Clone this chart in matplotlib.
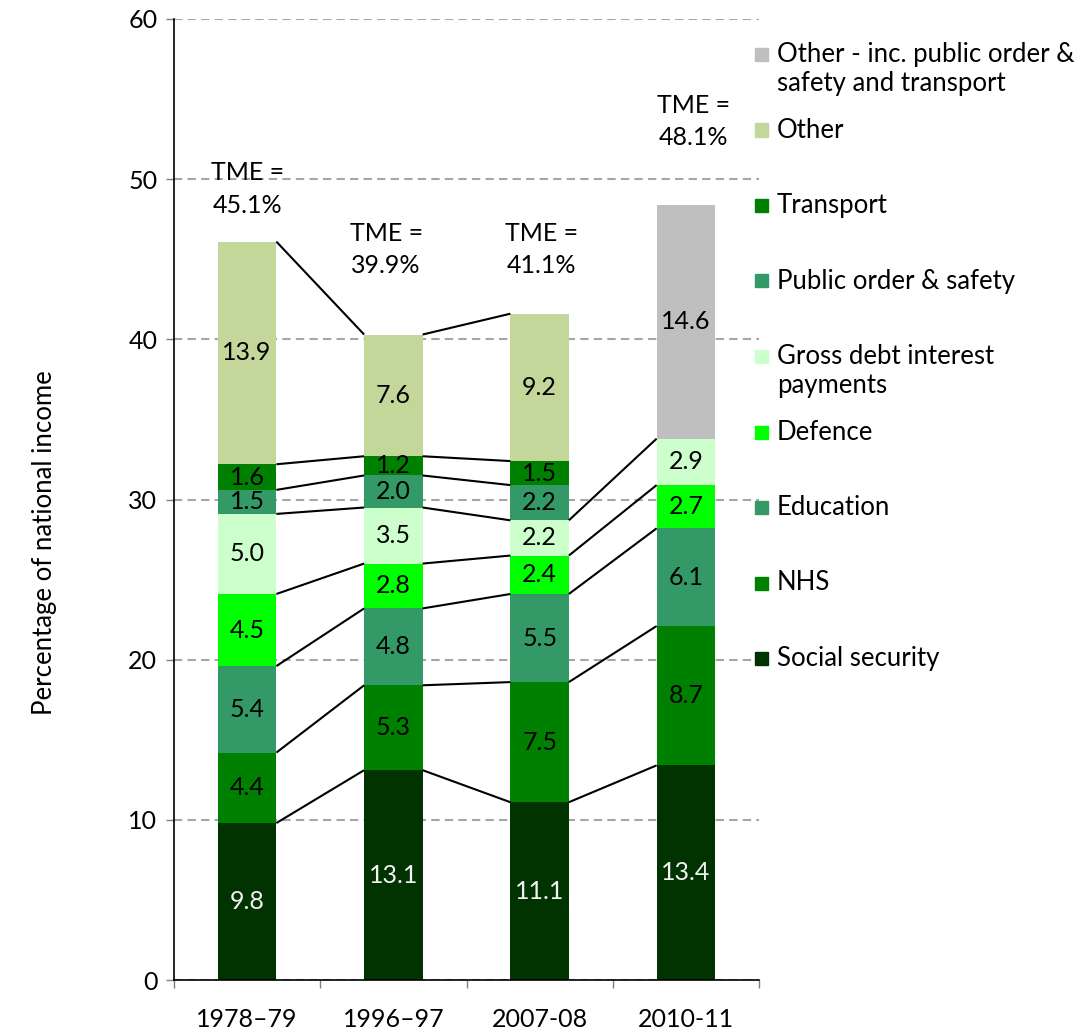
"""Stacked spending shares with series lines, TME notes and a side legend."""

import matplotlib.pyplot as plt
import numpy as np

# %% data
years = ["1978–79", "1996–97", "2007-08", "2010-11"]
social_security = [9.8, 13.1, 11.1, 13.4]
nhs = [4.4, 5.3, 7.5, 8.7]
education = [5.4, 4.8, 5.5, 6.1]
defence = [4.5, 2.8, 2.4, 2.7]
debt_interest = [5.0, 3.5, 2.2, 2.9]
public_order = [1.5, 2.0, 2.2, 0.0]
transport = [1.6, 1.2, 1.5, 0.0]
other = [13.9, 7.6, 9.2, 0.0]
other_incl = [0.0, 0.0, 0.0, 14.6]
tme = [45.1, 39.9, 41.1, 48.1]

series = [
    ("Social security", social_security, "#003300"),
    ("NHS", nhs, "#008000"),
    ("Education", education, "#339966"),
    ("Defence", defence, "#00ff00"),
    ("Gross debt interest\npayments", debt_interest, "#ccffcc"),
    ("Public order & safety", public_order, "#339966"),
    ("Transport", transport, "#008000"),
    ("Other", other, "#c4d79b"),
    ("Other - inc. public order &\nsafety and transport", other_incl, "#bfbfbf"),
]

# %% style
plt.rcParams["font.family"] = ["Lato", "DejaVu Sans"]
FS = 18

fig = plt.figure(figsize=(10.82, 10.32), dpi=100)
ax = fig.add_axes([174 / 1082, 1 - 980 / 1032, (759 - 174) / 1082, (980 - 19) / 1032])

x = np.arange(len(years))
w = 0.4
bottom = np.zeros(len(years))
tops = []
for name, vals, col in series:
    vals = np.array(vals)
    ax.bar(x, vals, w, bottom=bottom, color=col, edgecolor="none", zorder=2)
    txt_col = "#f2f2f2" if name == "Social security" else "black"
    for xi, b, v in zip(x, bottom, vals):
        if v > 0:
            ax.text(xi, b + v / 2, f"{v:.1f}", ha="center", va="center",
                    fontsize=FS, color=txt_col, zorder=4)
    bottom = bottom + vals
    tops.append((vals, bottom.copy()))

# series lines between neighbouring bars
for vals, top in tops:
    for i in range(len(years) - 1):
        if vals[i] > 0 and vals[i + 1] > 0:
            ax.plot([x[i] + w / 2, x[i + 1] - w / 2], [top[i], top[i + 1]],
                    color="black", lw=1.5, zorder=3, solid_capstyle="butt")

# TME notes
tme_x = [0, 1 - 0.05, 2 + 0.01, 3 + 0.05]
tme_y = [49.4, 45.6, 45.6, 53.6]
for tx, ty, t in zip(tme_x, tme_y, tme):
    ax.text(tx, ty, f"TME =\n{t:.1f}%", ha="center", va="center",
            fontsize=FS, linespacing=1.5, zorder=4)

# axes
ax.set_xlim(-0.5, len(years) - 0.5)
ax.set_ylim(0, 60)
ax.set_yticks(np.arange(0, 61, 10))
ax.set_xticks(x)
ax.set_xticklabels(years)
ax.set_xticks(np.arange(-0.5, len(years)), minor=True)
ax.tick_params(axis="x", which="major", length=0, pad=20, labelsize=FS)
ax.tick_params(axis="x", which="minor", length=6, width=1, color="#808080", direction="out")
ax.tick_params(axis="y", length=6, width=1, color="#808080", pad=6, labelsize=FS)
for s in ["top", "right"]:
    ax.spines[s].set_visible(False)
ax.spines["left"].set_linewidth(1.2)
ax.spines["bottom"].set_linewidth(1.2)
ax.yaxis.grid(True, color="#a6a6a6", lw=1.5, dashes=(4, 2.5), zorder=0)
ax.set_axisbelow(True)

fig.text(45 / 1082, 1 - 543 / 1032, "Percentage of national income",
         rotation=90, ha="center", va="center", fontsize=18.5)

# legend, drawn by hand so each marker sits on the first text line
for i, (name, vals, col) in enumerate(reversed(series)):
    yc = 54 + 75.5 * i
    fig.patches.append(plt.Rectangle((755 / 1082, 1 - (yc + 7) / 1032), 13 / 1082, 13 / 1032,
                                     transform=fig.transFigure, color=col, figure=fig))
    fig.text(777 / 1082, 1 - (yc - 12) / 1032, name, ha="left", va="top",
             fontsize=18.5, linespacing=1.2)

fig.savefig("out.png", dpi=100)
